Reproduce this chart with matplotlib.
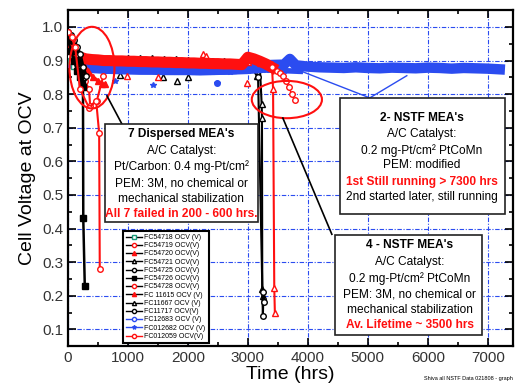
import matplotlib
matplotlib.use("Agg")
from matplotlib import pyplot as plt
from matplotlib.patches import Ellipse, Rectangle
from matplotlib.lines import Line2D

plt.rcParams['font.family'] = ['Liberation Sans', 'DejaVu Sans']

# ---- data ----
# dispersed MEAs (fail in 200-600 hrs)
t_54718 = [0, 50, 100]
v_54718 = [0.91, 0.90, 0.885]
t_54719 = [0, 60, 120, 200, 280, 350, 370, 480, 590]
v_54719 = [0.975, 0.96, 0.94, 0.90, 0.84, 0.815, 0.765, 0.78, 0.855]
t_54720 = [0, 60, 120, 180, 250, 330, 420, 500, 570, 620]
v_54720 = [0.95, 0.94, 0.93, 0.91, 0.89, 0.87, 0.85, 0.84, 0.83, 0.83]
t_54721 = [0, 50, 100, 150, 200, 250]
v_54721 = [0.97, 0.96, 0.945, 0.92, 0.88, 0.85]
t_54725 = [0, 50, 100, 150, 200, 250, 300]
v_54725 = [0.985, 0.975, 0.96, 0.94, 0.92, 0.88, 0.855]
t_54726 = [0, 50, 100, 150, 200, 230, 250, 255, 280]
v_54726 = [0.96, 0.93, 0.90, 0.87, 0.85, 0.83, 0.82, 0.43, 0.23]
t_54728 = [0, 60, 120, 200, 350, 470, 520, 530]
v_54728 = [0.985, 0.97, 0.94, 0.815, 0.76, 0.78, 0.684, 0.28]

# NSTF MEAs
t_11615 = [0, 200, 400, 600, 800, 1000, 1200, 1400, 1600, 1800, 2000, 2200,
           2400, 2600, 2800, 3000, 3200, 3400, 3420, 3440, 3450]
v_11615 = [0.915, 0.905, 0.903, 0.902, 0.901, 0.900, 0.900, 0.899, 0.899, 0.898,
           0.898, 0.897, 0.897, 0.896, 0.895, 0.895, 0.893, 0.89, 0.816, 0.224, 0.15]
t_11615_dip = [980, 1500, 2250, 2300, 2980]
v_11615_dip = [0.855, 0.85, 0.92, 0.915, 0.834]

t_11667 = [0, 200, 400, 600, 800, 1000, 1200, 1400, 1600, 1800, 2000, 2200,
           2400, 2600, 2800, 3000, 3200, 3230, 3235, 3240, 3245]
v_11667 = [0.92, 0.905, 0.903, 0.905, 0.906, 0.908, 0.908, 0.907, 0.906, 0.905,
           0.903, 0.9, 0.899, 0.898, 0.897, 0.896, 0.88, 0.77, 0.73, 0.22, 0.20]
t_11667_dip = [870, 1580, 1810, 2000, 3150]
v_11667_dip = [0.857, 0.85, 0.84, 0.85, 0.855]

t_11717 = [0, 200, 400, 600, 800, 1000, 1200, 1400, 1600, 1800, 2000, 2200,
           2400, 2600, 2800, 3000, 3170, 3250, 3260, 3275]
v_11717 = [0.92, 0.904, 0.902, 0.901, 0.902, 0.903, 0.904, 0.903, 0.902, 0.901,
           0.9, 0.899, 0.898, 0.897, 0.896, 0.894, 0.85, 0.14, 0.21, 0.18]

t_12683 = [0, 200, 400, 600, 800, 1000, 1200, 1400, 1600, 1800, 2000, 2200, 2400,
           2600, 2800, 3000, 3200, 3400, 3600, 3700, 3800, 4000, 4200, 4400, 4600,
           4800, 5000, 5200, 5400, 5600, 5800, 6000, 6200, 6400, 6600, 6800, 7000, 7200]
v_12683 = [0.895, 0.882, 0.878, 0.876, 0.875, 0.874, 0.873, 0.873, 0.872, 0.872,
           0.872, 0.871, 0.872, 0.873, 0.875, 0.880, 0.885, 0.887, 0.888, 0.905,
           0.886, 0.882, 0.880, 0.879, 0.878, 0.880, 0.878, 0.877, 0.879, 0.878,
           0.877, 0.879, 0.878, 0.876, 0.878, 0.877, 0.876, 0.874]
t_12683_dip = [2480]
v_12683_dip = [0.834]

t_012682 = [0, 300, 600, 900, 1200, 1500, 1800, 2100, 2400, 2700, 3000, 3300, 3600, 3870]
v_012682 = [0.90, 0.875, 0.87, 0.868, 0.868, 0.867, 0.866, 0.867, 0.866, 0.866,
            0.868, 0.872, 0.87, 0.868]
t_012682_dip = [780, 1420, 2480]
v_012682_dip = [0.84, 0.828, 0.834]

t_012059 = [0, 100, 200, 300, 400, 500, 600, 700, 800, 900, 1000, 1100, 1200, 1300,
            1400, 1500, 1600, 1700, 1800, 1900, 2000, 2100, 2200, 2300, 2400, 2500,
            2600, 2700, 2800, 2900, 3000, 3100, 3200, 3300, 3400]
v_012059 = [0.925, 0.915, 0.91, 0.905, 0.903, 0.902, 0.9, 0.9, 0.899, 0.899, 0.898,
            0.898, 0.897, 0.897, 0.896, 0.896, 0.895, 0.895, 0.894, 0.894, 0.893,
            0.893, 0.892, 0.892, 0.891, 0.891, 0.89, 0.89, 0.889, 0.888, 0.91, 0.905,
            0.898, 0.89, 0.88]
t_012059_tail = [3400, 3480, 3530, 3580, 3630, 3680, 3730, 3780]
v_012059_tail = [0.88, 0.87, 0.864, 0.853, 0.84, 0.822, 0.80, 0.782]

labels = ["FC54718 OCV (V)", "FC54719 OCV(V)", "FC54720 OCV(V)", "FC54721 OCV(V)",
          "FC54725 OCV(V)", "FC54726 OCV(V)", "FC54728 OCV(V)", "FC 11615 OCV (V)",
          "FC11667 OCV (V)", "FC11717 OCV(V)", "FC12683 OCV (V)", "FC012682 OCV (V)",
          "FC012059 OCV(V)"]

# ---- figure ----
fig = plt.figure(figsize=(5.15, 3.92), dpi=100)
ax = fig.add_axes([0.132, 0.117, 0.864, 0.857])

blue = '#2b4cf0'
red = '#ff1010'

def mk(color, marker, fill=True, ms=4):
    return dict(color=color, marker=marker, markersize=ms, markeredgewidth=1,
                markerfacecolor=color if fill else 'white', markeredgecolor=color)

# NSTF black
ax.plot(t_11667, v_11667, lw=1.5, zorder=2, **mk('black', '^', False))
ax.plot(t_11667_dip, v_11667_dip, ls='none', zorder=2, **mk('black', '^', False))
ax.plot(t_11717, v_11717, lw=1.5, zorder=2, **mk('black', 'o', False))
# blue
ax.plot(t_12683, v_12683, lw=7.5, zorder=3, **mk(blue, 'o'))
ax.plot(t_12683_dip, v_12683_dip, ls='none', zorder=3, **mk(blue, 'o'))
ax.plot(t_012682, v_012682, lw=4, zorder=3, **mk(blue, '*'))
ax.plot(t_012682_dip, v_012682_dip, ls='none', zorder=3, **mk(blue, '*'))
# red NSTF
ax.plot(t_11615, v_11615, lw=1.5, zorder=4, **mk(red, '^', False))
ax.plot(t_11615_dip, v_11615_dip, ls='none', zorder=4, **mk(red, '^', False))
ax.plot(t_012059, v_012059, lw=8, zorder=4, **mk(red, 'o', True))
ax.plot(t_012059_tail, v_012059_tail, lw=1, zorder=4, **mk(red, 'o', False))

# dispersed
ax.plot(t_54718, v_54718, lw=1, zorder=5, **mk('#1a9a7a', 's', False))
ax.plot(t_54719, v_54719, lw=1.5, zorder=5, **mk(red, 'o', False))
ax.plot(t_54720, v_54720, lw=2.5, zorder=5, **mk(red, '^'))
ax.plot(t_54721, v_54721, lw=2.5, zorder=5, **mk('black', '^', False))
ax.plot(t_54725, v_54725, lw=2.5, zorder=5, **mk('black', 'o', False))
ax.plot(t_54726, v_54726, lw=1.8, zorder=5, **mk('black', 's'))
ax.plot(t_54728, v_54728, lw=1.5, zorder=5, **mk(red, 'o', False))

# axes style
ax.set_xlim(0, 7420)
ax.set_ylim(0.05, 1.05)
ax.set_xticks(range(0, 7001, 1000))
ax.set_xticks(range(500, 7420, 1000), minor=True)
ax.set_yticks([0.1, 0.2, 0.3, 0.4, 0.5, 0.6, 0.7, 0.8, 0.9, 1.0])
ax.set_yticks([0.15, 0.25, 0.35, 0.45, 0.55, 0.65, 0.75, 0.85, 0.95], minor=True)
ax.set_yticklabels(['0.1', '0.2', '0.3', '0.4', '0.5', '0.6', '0.7', '0.8', '0.9', '1.0'])
ax.tick_params(which='both', direction='in', top=True, right=True, width=1.2,
               labelsize=11, labelcolor='#333333')
ax.tick_params(which='major', length=6)
ax.tick_params(which='minor', length=3)
for s in ax.spines.values():
    s.set_linewidth(1.6)
ax.grid(True, which='major', color=blue, ls=(0, (4, 1.5, 1, 1.5)), lw=0.8)
ax.set_axisbelow(True)
ax.set_xlabel('Time (hrs)', fontsize=14, labelpad=1)
ax.set_ylabel('Cell Voltage at OCV', fontsize=14, labelpad=4)

# ellipses and pointer lines
ax.add_patch(Ellipse((400, 0.879), 750, 0.243, fill=False, ec=red, lw=1.5, zorder=6))
ax.add_patch(Ellipse((3650, 0.784), 1170, 0.111, fill=False, ec=red, lw=1.5, zorder=6))
ax.plot([650, 900], [0.795, 0.711], color='black', lw=1.2, zorder=6)
ax.plot([3583, 4400], [0.729, 0.383], color='black', lw=1.2, zorder=6)
ax.plot([3867, 5033, 5650], [0.87, 0.789, 0.855], color=blue, lw=1, zorder=6)

# text boxes
FS = 8.6

def box(x0, x1, y0, y1, xc, lines):
    ax.add_patch(Rectangle((x0, y0), x1 - x0, y1 - y0, fc='white', ec='#222222',
                           lw=1.2, zorder=7))
    for (txt, y, style) in lines:
        if style == 'b':
            ax.text(xc, y, txt, ha='center', va='center', fontsize=FS,
                    fontweight='bold', zorder=8)
        elif style == 'r':
            ax.text(xc, y, txt, ha='center', va='center', fontsize=FS,
                    fontweight='bold', color=red, zorder=8)
        else:
            ax.text(xc, y, txt, ha='center', va='center', fontsize=FS, zorder=8)

box(617, 3167, 0.419, 0.711, 1890, [
    ("7 Dispersed MEA's", 0.681, 'b'),
    ("A/C Catalyst:", 0.632, ''),
    ("Pt/Carbon: 0.4 mg-Pt/cm\u00b2", 0.585, ''),
    ("PEM: 3M, no chemical or", 0.535, ''),
    ("mechanical stabilization", 0.488, ''),
    ("All 7 failed in 200 - 600 hrs.", 0.443, 'r')])

box(4533, 7283, 0.443, 0.789, 5900, [
    ("2- NSTF MEA's", 0.729, 'b'),
    ("A/C Catalyst:", 0.681, ''),
    ("0.2 mg-Pt/cm\u00b2 PtCoMn", 0.633, ''),
    ("PEM: modified", 0.588, ''),
    ("1st Still running > 7300 hrs", 0.540, 'r'),
    ("2nd started later, still running", 0.494, '')])

box(4450, 6900, 0.083, 0.380, 5700, [
    ("4 - NSTF MEA's", 0.350, 'b'),
    ("A/C Catalyst:", 0.299, ''),
    ("0.2 mg-Pt/cm\u00b2 PtCoMn", 0.251, ''),
    ("PEM: 3M, no chemical or", 0.203, ''),
    ("mechanical stabilization", 0.158, ''),
    ("Av. Lifetime ~ 3500 hrs", 0.113, 'r')])

# legend
styles = [('#1a9a7a', 's', False), (red, 'o', False), (red, '^', True),
          ('black', '^', False), ('black', 'o', False), ('black', 's', True),
          (red, 'o', False), (red, '^', True), ('black', '^', False),
          ('black', 'o', False), (blue, 'o', False), (blue, '*', True),
          (red, 'o', False)]
line_cols = ['black'] * 10 + [blue, blue, red]
handles = [Line2D([], [], color=line_cols[i], lw=1, marker=m, markersize=3,
                  markeredgecolor=c, markerfacecolor=c if f else 'white')
           for i, (c, m, f) in enumerate(styles)]
leg = ax.legend(handles, labels, loc='lower left', bbox_to_anchor=(917, 0.058),
                bbox_transform=ax.transData, fontsize=5, frameon=True, fancybox=False,
                edgecolor='black', framealpha=1, labelspacing=0.18, handlelength=2.2,
                handletextpad=0.3, borderpad=0.5, borderaxespad=0)
leg.get_frame().set_linewidth(1.5)
leg.set_zorder(9)

fig.text(0.995, 0.03, "Shiva all NSTF Data 021808 - graph", fontsize=4, ha='right')

fig.savefig("out.png", dpi=100)
